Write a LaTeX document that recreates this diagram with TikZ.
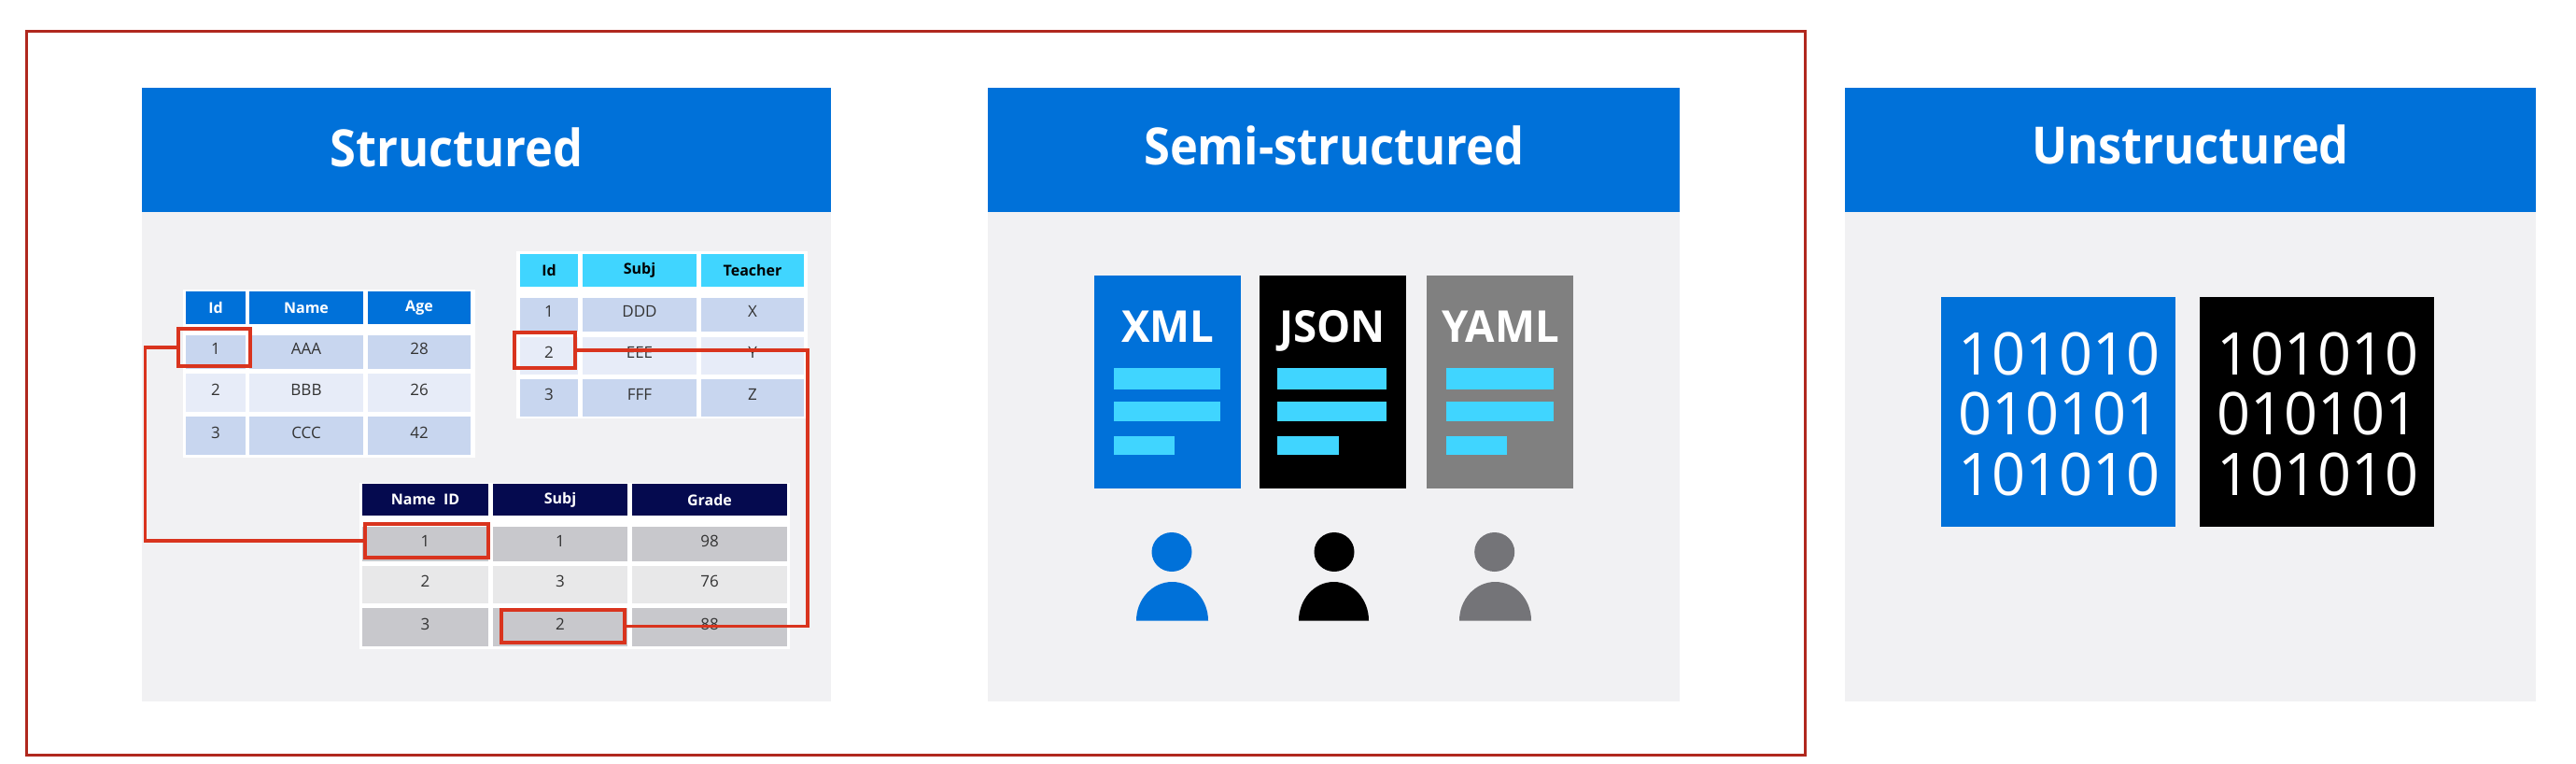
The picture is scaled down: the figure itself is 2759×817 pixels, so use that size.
\documentclass[tikz,border=0pt]{standalone}
\usepackage{fontspec}
\setmainfont{Open Sans}
\newfontfamily\titlefont[FakeStretch=0.92]{Open Sans}
\newfontfamily\docfont[FakeStretch=0.97]{Open Sans}
\definecolor{azure}{HTML}{0071D9}
\definecolor{skyhead}{HTML}{40D5FF}
\definecolor{navyhead}{HTML}{050A4F}
\definecolor{panelbg}{HTML}{F1F1F3}
\definecolor{bluedark}{HTML}{C8D6EF}
\definecolor{bluelight}{HTML}{E7ECF8}
\definecolor{greydark}{HTML}{C8C8CC}
\definecolor{greylight}{HTML}{E8E8E9}
\definecolor{keyred}{HTML}{D9341E}
\definecolor{framered}{HTML}{B0281E}
\definecolor{docgrey}{HTML}{808080}
\definecolor{mangrey}{HTML}{747478}
\tikzset{
  panelhead/.style={fill=azure,inner sep=0pt,minimum height=133pt,minimum width=740pt},
  paneltitle/.style={text=white,inner sep=0pt,anchor=base,font=\titlefont\bfseries\fontsize{55}{60}\selectfont},
  headcell/.style={inner sep=0pt,text=white,font=\bfseries\fontsize{16}{18}\selectfont},
  bodycell/.style={inner sep=0pt,text=black!80,text height=13pt,text depth=8pt,font=\fontsize{17}{19}\selectfont},
  keybox/.style={draw=keyred,line width=4pt,inner sep=0pt},
  keyline/.style={draw=keyred,line width=3.5pt},
  docbox/.style={inner sep=0pt,minimum width=157pt,minimum height=228pt},
  doclabel/.style={text=white,inner sep=0pt,anchor=base,font=\docfont\bfseries\fontsize{47}{50}\selectfont},
  docbar/.style={fill=skyhead},
  binbox/.style={inner sep=0pt,minimum width=251pt,minimum height=246pt},
  bintext/.style={text=white,inner sep=0pt,align=center,font=\fontsize{63}{64.5}\selectfont},
}
\begin{document}
\begin{tikzpicture}[x=1pt,y=-1pt]
  \useasboundingbox (0,0) rectangle (2759,817);
  \draw[framered,line width=3pt] (28,33) rectangle (1933,808);

  % panels
  \fill[panelbg] (152,226) rectangle (890,751);
  \fill[panelbg] (1058,226) rectangle (1799,751);
  \fill[panelbg] (1976,226) rectangle (2716,751);
  \node[panelhead,minimum width=738pt] (headA) at (521,160) {};
  \node[panelhead,minimum width=741pt] (headB) at (1428.5,160) {};
  \node[panelhead,minimum width=740pt] (headC) at (2346,160.5) {};
  \node[paneltitle] (titleA) at (489,178) {Structured};
  \node[paneltitle] (titleB) at (1429,176) {Semi-structured};
  \node[paneltitle] (titleC) at (2346,175) {Unstructured};

  % first table
  \fill[white] (196,310) rectangle (509,490);
  \node[headcell,fill=azure,minimum width=64pt,minimum height=35pt] (aHeadId) at (231,329.5) {Id};
  \node[headcell,fill=azure,minimum width=122pt,minimum height=35pt] (aHeadName) at (328,329.5) {Name};
  \node[headcell,fill=azure,minimum width=110pt,minimum height=35pt] (aHeadAge) at (449,329.5) {Age};
  \node[bodycell,fill=bluedark,minimum width=64pt,minimum height=36pt] (aId1) at (231,377) {1};
  \node[bodycell,fill=bluedark,minimum width=122pt,minimum height=36pt] (aName1) at (328,377) {AAA};
  \node[bodycell,fill=bluedark,minimum width=110pt,minimum height=36pt] (aAge1) at (449,377) {28};
  \node[bodycell,fill=bluelight,minimum width=64pt,minimum height=41pt] (aId2) at (231,420.5) {2};
  \node[bodycell,fill=bluelight,minimum width=122pt,minimum height=41pt] (aName2) at (328,420.5) {BBB};
  \node[bodycell,fill=bluelight,minimum width=110pt,minimum height=41pt] (aAge2) at (449,420.5) {26};
  \node[bodycell,fill=bluedark,minimum width=64pt,minimum height=41pt] (aId3) at (231,466.5) {3};
  \node[bodycell,fill=bluedark,minimum width=122pt,minimum height=41pt] (aName3) at (328,466.5) {CCC};
  \node[bodycell,fill=bluedark,minimum width=110pt,minimum height=41pt] (aAge3) at (449,466.5) {42};

  % second table
  \fill[white] (553,269) rectangle (865,448);
  \node[headcell,text=black,fill=skyhead,minimum width=62pt,minimum height=35pt] (bHeadId) at (588,289.5) {Id};
  \node[headcell,text=black,fill=skyhead,minimum width=122pt,minimum height=35pt] (bHeadSubj) at (685,289.5) {Subj};
  \node[headcell,text=black,fill=skyhead,minimum width=110pt,minimum height=35pt] (bHeadTeacher) at (806,289.5) {Teacher};
  \node[bodycell,fill=bluedark,minimum width=62pt,minimum height=36pt] (bId1) at (588,337) {1};
  \node[bodycell,fill=bluedark,minimum width=122pt,minimum height=36pt] (bSubj1) at (685,337) {DDD};
  \node[bodycell,fill=bluedark,minimum width=110pt,minimum height=36pt] (bTeacher1) at (806,337) {X};
  \node[bodycell,fill=bluelight,minimum width=62pt,minimum height=40pt] (bId2) at (588,381) {2};
  \node[bodycell,fill=bluelight,minimum width=122pt,minimum height=40pt] (bSubj2) at (685,381) {EEE};
  \node[bodycell,fill=bluelight,minimum width=110pt,minimum height=40pt] (bTeacher2) at (806,381) {Y};
  \node[bodycell,fill=bluedark,minimum width=62pt,minimum height=40pt] (bId3) at (588,426) {3};
  \node[bodycell,fill=bluedark,minimum width=122pt,minimum height=40pt] (bSubj3) at (685,426) {FFF};
  \node[bodycell,fill=bluedark,minimum width=110pt,minimum height=40pt] (bTeacher3) at (806,426) {Z};

  % third table
  \fill[white] (385,517) rectangle (846,695);
  \node[headcell,fill=navyhead,minimum width=135pt,minimum height=34pt] (cHeadName) at (455.5,535) {Name~~ID};
  \node[headcell,fill=navyhead,minimum width=144pt,minimum height=34pt] (cHeadSubj) at (600,535) {Subj};
  \node[headcell,fill=navyhead,minimum width=166pt,minimum height=34pt] (cHeadGrade) at (760,535) {Grade};
  \node[bodycell,fill=greydark,minimum width=135pt,minimum height=37pt] (cName1) at (455.5,582.5) {1};
  \node[bodycell,fill=greydark,minimum width=144pt,minimum height=37pt] (cSubj1) at (600,582.5) {1};
  \node[bodycell,fill=greydark,minimum width=166pt,minimum height=37pt] (cGrade1) at (760,582.5) {98};
  \node[bodycell,fill=greylight,minimum width=135pt,minimum height=40pt] (cName2) at (455.5,626) {2};
  \node[bodycell,fill=greylight,minimum width=144pt,minimum height=40pt] (cSubj2) at (600,626) {3};
  \node[bodycell,fill=greylight,minimum width=166pt,minimum height=40pt] (cGrade2) at (760,626) {76};
  \node[bodycell,fill=greydark,minimum width=135pt,minimum height=41pt] (cName3) at (455.5,671.5) {3};
  \node[bodycell,fill=greydark,minimum width=144pt,minimum height=41pt] (cSubj3) at (600,671.5) {2};
  \node[bodycell,fill=greydark,minimum width=166pt,minimum height=41pt] (cGrade3) at (760,671.5) {88};

  % keys and the lines between them
  \coordinate (busL) at (155.5,470);
  \coordinate (busR) at (865,520);
  \node[keybox,minimum width=77pt,minimum height=40pt] (keyA) at (229.5,372) {};
  \node[keybox,minimum width=65pt,minimum height=38pt] (keyB) at (583.5,375) {};
  \node[keybox,minimum width=132pt,minimum height=36pt] (keyC) at (457,579) {};
  \node[keybox,minimum width=132pt,minimum height=35pt] (keyD) at (603,670.5) {};
  \draw[keyline] (keyA.west) -| (busL) |- (keyC.west);
  \draw[keyline] (keyB.east) -| (busR) |- (keyD.east);

  % documents
  \node[docbox,fill=azure] (docXml) at (1250,409) {};
  \node[docbox,fill=black] (docJson) at (1427,409) {};
  \node[docbox,fill=docgrey] (docYaml) at (1606,409) {};
  \node[doclabel] (labelXml) at (1251,366) {XML};
  \node[doclabel] (labelJson) at (1427,366) {JSON};
  \node[doclabel] (labelYaml) at (1607,366) {YAML};
  \fill[docbar] (1193,394) rectangle (1307,417);
  \fill[docbar] (1193,430) rectangle (1307,451);
  \fill[docbar] (1193,466.5) rectangle (1258,487);
  \fill[docbar] (1368,394) rectangle (1485,417);
  \fill[docbar] (1368,430) rectangle (1485,451);
  \fill[docbar] (1368,466.5) rectangle (1434,487);
  \fill[docbar] (1548.5,394) rectangle (1664,417);
  \fill[docbar] (1548.5,430) rectangle (1664,451);
  \fill[docbar] (1548.5,466.5) rectangle (1614,487);

  % people
  \fill[azure] (1255,591) ellipse [x radius=21.5,y radius=21];
  \fill[azure] (1217,664.5) arc [start angle=180,end angle=360,x radius=38.5,y radius=41.5] -- cycle;
  \fill[black] (1429,591) ellipse [x radius=21.5,y radius=21];
  \fill[black] (1391,664.5) arc [start angle=180,end angle=360,x radius=37.5,y radius=41.5] -- cycle;
  \fill[mangrey] (1600.7,591) ellipse [x radius=21.5,y radius=21];
  \fill[mangrey] (1563,664.5) arc [start angle=180,end angle=360,x radius=38.5,y radius=41.5] -- cycle;

  % binary
  \node[binbox,fill=azure] (binBlue) at (2204.5,441) {};
  \node[binbox,fill=black] (binBlack) at (2481.5,441) {};
  \node[bintext] (digitsBlue) at (2205.5,443) {101010\\010101\\101010};
  \node[bintext] (digitsBlack) at (2482.5,443) {101010\\010101\\101010};
\end{tikzpicture}
\end{document}
